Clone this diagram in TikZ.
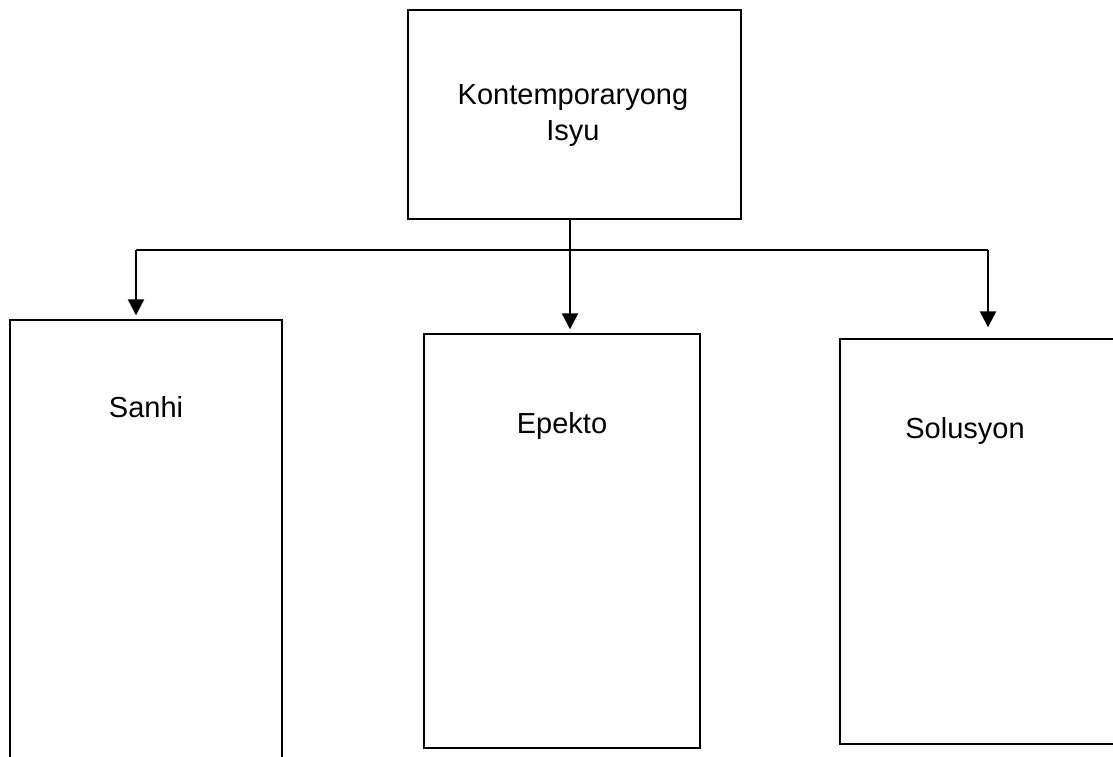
\documentclass[tikz,border=0pt]{standalone}
\usepackage{fontspec}
\setmainfont{Liberation Sans}
\usetikzlibrary{arrows.meta}
\begin{document}
\begin{tikzpicture}[x=1pt,y=-1pt]
		\tikzstyle{Box} = [rectangle, draw=black, line width=1.4pt, fill=white, inner sep=0pt]
		\tikzstyle{Label} = [font=\fontsize{29}{36}\selectfont, align=center, inner sep=0pt]
		\tikzstyle{line} = [line width=1.8pt]
		\tikzstyle{arrow} = [line width=2.2pt, -{Triangle[width=16pt,length=16pt]}]
		
		\useasboundingbox (0,0) rectangle (1113,756);
		\node (isyu) [Box, minimum width=333pt, minimum height=209pt] at (574.5,114.5) {};
		\node (sanhi) [Box, minimum width=272pt, minimum height=460pt] at (146,550) {};
		\node (epekto) [Box, minimum width=276pt, minimum height=414pt] at (562,541) {};
		\node (solusyon) [Box, minimum width=285pt, minimum height=405pt] at (982.5,541.5) {};
		\node (isyuText) [Label] at (573,116) {Kontemporaryong\\Isyu};
		\node (sanhiText) [Label, anchor=base] at (146,417) {Sanhi};
		\node (epektoText) [Label, anchor=base] at (562,433) {Epekto};
		\node (solusyonText) [Label, anchor=base] at (965,438) {Solusyon};
		\coordinate (bus) at (570,250);
		\coordinate (busL) at (136,250);
		\coordinate (busR) at (988,250);
		\draw [line] (isyu.south -| bus) -- (bus);
		\draw [line] (busL) -- (busR);
		\draw [arrow, shorten >=4pt] (busL) -- (sanhi.north -| busL);
		\draw [arrow, shorten >=4pt] (bus) -- (epekto.north -| bus);
		\draw [arrow, shorten >=11pt] (busR) -- (solusyon.north -| busR);
		\end{tikzpicture}
\end{document}
